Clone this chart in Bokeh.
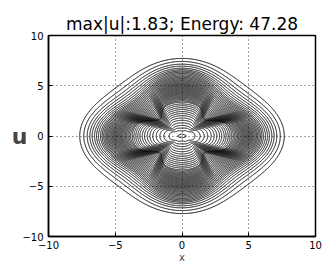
import numpy as np
from bokeh.plotting import figure
from bokeh.models import FixedTicker, Range1d
from bokeh.embed import file_html
from bokeh.resources import INLINE

title_text = "max|u|:1.83; Energy: 47.28"
x_label = "x"
y_label = "u"
ticks = [-10, -5, 0, 5, 10]
tick_labels = ["\u221210", "\u22125", "0", "5", "10"]
grid_ticks = [-5, 0, 5]

# contour crossing radii (center outward): along x-axis, along y-axis, along diagonal
rx = [0.30, 0.97, 1.36, 1.66, 1.93, 2.19, 2.41, 2.61, 2.81, 2.98, 3.16, 3.31, 3.46, 3.60, 3.73,
      3.85, 3.96, 4.06, 4.16, 4.25, 4.34, 4.43, 4.51, 4.59, 4.67, 4.75, 4.83, 4.91, 4.99, 5.07,
      5.15, 5.23, 5.31, 5.40, 5.49, 5.58, 5.67, 5.77, 5.87, 5.98, 6.10,
      6.25, 6.40, 6.55, 6.73, 6.90, 7.10, 7.36, 7.66]
ry = [0.20, 0.50, 0.78, 1.05, 1.31, 1.56, 1.79, 2.02, 2.23, 2.43, 2.63, 2.82, 3.01, 3.19, 3.37,
      3.50, 3.62, 3.74, 3.85, 3.96, 4.07, 4.17, 4.27, 4.37, 4.47, 4.57, 4.67, 4.77, 4.87, 4.97,
      5.07, 5.17, 5.27, 5.38, 5.49, 5.60, 5.72, 5.84, 5.96, 6.09, 6.22,
      6.35, 6.47, 6.60, 6.75, 6.95, 7.15, 7.42, 7.72]
rd = [0.18, 0.62, 0.85, 1.02, 1.17, 1.30, 1.42, 1.53, 1.64, 1.74, 1.84, 1.94, 2.03, 2.12, 2.21,
      2.31, 2.42, 2.53, 2.64, 2.75, 2.86, 2.97, 3.08, 3.19, 3.30, 3.41, 3.52, 3.63, 3.74, 3.85,
      3.96, 4.07, 4.18, 4.29, 4.40, 4.51, 4.62, 4.73, 4.84, 4.95, 5.06,
      5.20, 5.36, 5.54, 5.74, 5.96, 6.20, 6.50, 6.90]
# half-width of the rounded bulge where each contour crosses an axis
cap = [9.9] * 15 + [1.60, 1.64, 1.68, 1.72, 1.76, 1.80, 1.84, 1.88, 1.92, 1.96, 2.00, 2.04, 2.08,
                    2.12, 2.16, 2.20, 2.24, 2.28, 2.32, 2.36, 2.40, 2.44, 2.48, 2.52, 2.56, 2.60,
                    2.62, 2.64, 2.66, 2.68, 2.70, 2.72, 2.74, 2.76]

n = len(rx)
# how cross-like each contour is (inner rings) versus a rounded diamond (outer rings)
crossness = np.concatenate([np.full(15, 0.75), np.linspace(0.65, 0.0, 26), np.zeros(n - 41)])


def softmin(a, b, k):
    return (a ** -k + b ** -k) ** (-1.0 / k)


def softmax(a, b, k):
    return (a ** k + b ** k) ** (1.0 / k)


theta = np.linspace(0, 2 * np.pi, 1441)
ac = np.abs(np.cos(theta)) + 1e-9
asn = np.abs(np.sin(theta)) + 1e-9
c4 = np.cos(4 * theta)
xs, ys = [], []
for a, b, d, c, al in zip(rx, ry, rd, cap, crossness):
    ra = a * ac ** 2 + b * asn ** 2
    r_round = (ra + d) / 2 + (ra - d) / 2 * c4
    w = min(d / np.sqrt(2), c)
    rh = softmin(a, w / asn, 10)
    rv = softmin(b, w / ac, 10)
    rp = softmax(rh, rv, 14)
    rdm = softmin(d * np.sqrt(2) / (ac + asn), ra, 10)
    r_cross = np.maximum(rp, rdm)
    r = al * r_cross + (1 - al) * r_round
    xs.append(r * np.cos(theta))
    ys.append(r * np.sin(theta))

p = figure(width=324, height=267, x_range=Range1d(-10, 10), y_range=Range1d(-10, 10),
           output_backend="svg", toolbar_location=None,
           min_border_left=48, min_border_right=9, min_border_top=35, min_border_bottom=31)
p.background_fill_color = "white"
p.border_fill_color = "white"
p.outline_line_color = "black"
p.outline_line_width = 1.5

p.multi_line(xs, ys, line_color="black", line_width=1)

p.title.text = title_text
p.title.align = "center"
p.title.text_font = "DejaVu Sans"
p.title.text_font_size = "17px"
p.title.text_font_style = "normal"
p.title.text_color = "black"
p.title.standoff = 4

for ax in (p.xaxis[0], p.yaxis[0]):
    ax.ticker = FixedTicker(ticks=ticks)
    ax.major_label_overrides = dict(zip(ticks, tick_labels))
    ax.minor_tick_line_color = None
    ax.major_tick_in = 4
    ax.major_tick_out = 0
    ax.axis_line_color = "black"
    ax.axis_line_width = 1.5
    ax.major_tick_line_color = "black"
    ax.major_label_text_font = "DejaVu Sans"
    ax.major_label_text_font_size = "10px"
    ax.major_label_text_color = "black"
p.xaxis.major_label_standoff = 4
p.yaxis.major_label_standoff = 5

p.xaxis.axis_label = x_label
p.xaxis.axis_label_text_font = "DejaVu Sans"
p.xaxis.axis_label_text_font_size = "10px"
p.xaxis.axis_label_text_font_style = "normal"
p.xaxis.axis_label_standoff = 0

p.yaxis.axis_label = y_label
p.yaxis.axis_label_orientation = "horizontal"
p.yaxis.axis_label_text_font = "DejaVu Sans"
p.yaxis.axis_label_text_font_size = "22px"
p.yaxis.axis_label_text_font_style = "bold"
p.yaxis.axis_label_standoff = -8

for g in (p.xgrid[0], p.ygrid[0]):
    g.ticker = FixedTicker(ticks=grid_ticks)
    g.grid_line_color = "#444444"
    g.grid_line_dash = "1 3"
    g.grid_line_width = 1

open("out.html", "w").write(file_html(p, INLINE))
